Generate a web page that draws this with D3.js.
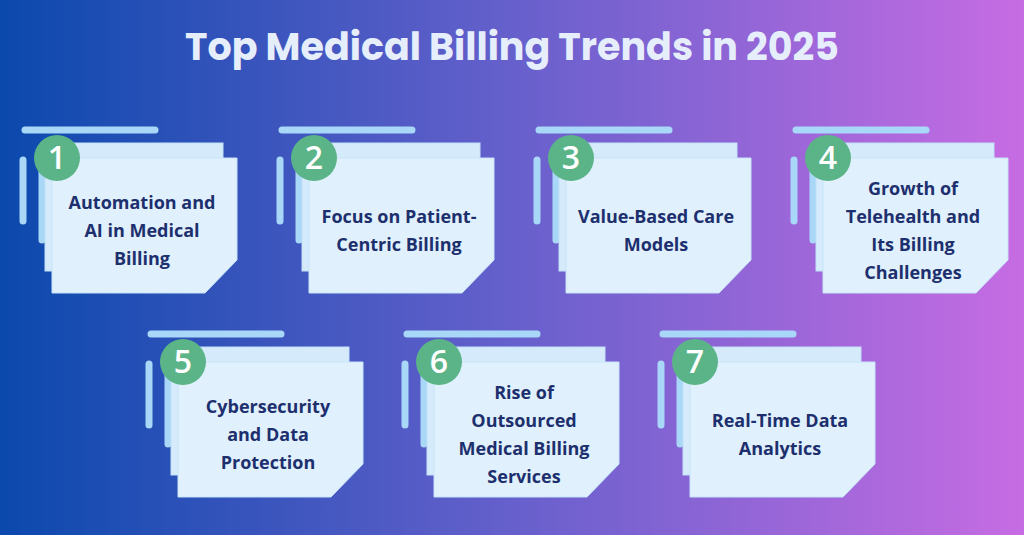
<!DOCTYPE html>
<html><head><meta charset="utf-8">
<script src="https://cdn.jsdelivr.net/npm/d3@7"></script>
<style>body{margin:0;overflow:hidden}</style>
</head><body>
<script>
var w = 1024, h = 535;
var numbers = ["1","2","3","4","5","6","7"];
var labels = [
  ["Automation and","AI in Medical","Billing"],
  ["Focus on Patient-","Centric Billing"],
  ["Value-Based Care","Models"],
  ["Growth of","Telehealth and","Its Billing","Challenges"],
  ["Cybersecurity","and Data","Protection"],
  ["Rise of","Outsourced","Medical Billing","Services"],
  ["Real-Time Data","Analytics"]
];
var title = "Top Medical Billing Trends in 2025";

var svg = d3.select("body").append("svg").attr("width", w).attr("height", h);
var defs = svg.append("defs");
var g = defs.append("linearGradient").attr("id","bg");
g.append("stop").attr("offset","0%").attr("stop-color","#0b49ad");
g.append("stop").attr("offset","50%").attr("stop-color","#6660cc");
g.append("stop").attr("offset","100%").attr("stop-color","#c76ce3");
svg.append("rect").attr("width",w).attr("height",h).attr("fill","url(#bg)");

svg.append("text").attr("x",w/2).attr("y",60).attr("text-anchor","middle")
  .attr("font-family","Poppins, 'DejaVu Sans', sans-serif").attr("font-weight","bold")
  .attr("font-size",38).attr("fill","#e6eefc").text(title);

// card origin = circle centre
function pos(i) {
  if (i < 4) return [57 + i*257, 158];
  return [183 + (i-4)*256, 362];
}

var cards = svg.selectAll("g.card").data(numbers).enter().append("g")
  .attr("class","card")
  .attr("transform", function(d,i){ var p = pos(i); return "translate("+p[0]+","+p[1]+")"; });

var stripe = "#a9d7f7";
cards.append("line").attr("x1",-32).attr("y1",-28).attr("x2",98).attr("y2",-28);
cards.append("line").attr("x1",-16).attr("y1",-10).attr("x2",115).attr("y2",-10);
cards.append("line").attr("x1",-34).attr("y1",2).attr("x2",-34).attr("y2",63);
cards.append("line").attr("x1",-15).attr("y1",2).attr("x2",-15).attr("y2",82);
cards.selectAll("line").attr("stroke",stripe).attr("stroke-width",7).attr("stroke-linecap","round");

cards.append("rect").attr("x",-12).attr("y",-15).attr("width",178).attr("height",128)
  .attr("fill","#d5ebfc").attr("stroke","#c2e0f7");
cards.append("path").attr("d","M-5,0 H180 V102 L148,135 H-5 Z")
  .attr("fill","#e0f1fd").attr("stroke","#c6e3f8");

cards.append("circle").attr("r",23).attr("fill","#5bb487");
cards.append("text").attr("y",11).attr("text-anchor","middle")
  .attr("font-family","'Open Sans', sans-serif").attr("font-size",32).attr("font-weight","600")
  .attr("fill","#ffffff").text(function(d){ return d; });

cards.append("text").attr("text-anchor","middle")
  .attr("font-family","'Open Sans', sans-serif").attr("font-weight","bold")
  .attr("font-size",18).attr("fill","#1d2f6d")
  .each(function(d,i){
    var lines = labels[+d-1], t = d3.select(this);
    var lh = 28, cy = 85 - (lines.length-1)*lh/2 - 12 + 6;
    lines.forEach(function(s,k){
      t.append("tspan").attr("x",85).attr("y",cy + k*lh).text(s);
    });
  });
</script>
</body></html>
